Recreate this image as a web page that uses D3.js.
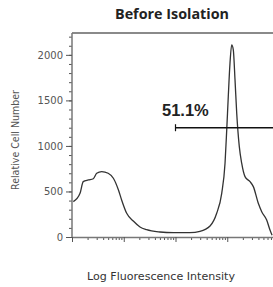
<!DOCTYPE html>
<html>
<head>
<meta charset="utf-8">
<script src="https://cdn.jsdelivr.net/npm/d3@7"></script>
<style>
  body { margin: 0; background: #fff; }
  svg { display: block; }
</style>
</head>
<body>
<div id="chart"></div>
<script>
// histogram: intensity (log axis) vs relative cell number
const intensity = [1.06, 1.43, 1.65, 2.07, 2.58, 3.0, 3.75, 5.0, 6.3, 7.9, 9.1, 11.4, 15.3, 20.6, 27.7,
    50, 91, 190, 297, 465, 625, 782, 906, 977, 1047, 1130, 1219, 1309, 1413, 1524, 1710, 1901,
    2203, 2754, 3192, 3981, 4634, 5781, 6699, 7328];
const cellCount = [388, 480, 608, 626, 640, 700, 718, 700, 645, 516, 407, 260, 175, 110, 80,
    55, 47, 48, 62, 120, 260, 480, 810, 1176, 1542, 1909, 2110, 2055, 1725, 1359, 992, 810,
    663, 608, 553, 370, 278, 187, 77, 20];

const yTicks = [0, 500, 1000, 1500, 2000];
const gateRange = [100, 10000];
const gateLevel = 1200;
const gateLabel = "51.1%";

const width = 273, height = 287;
const plotLeft = 72, plotTop = 33, plotBottom = 237, plotRight = 279;

let svg = d3.select("#chart").append("svg")
    .attr("width", width)
    .attr("height", height);

let x = d3.scaleLog().domain([1, 10000]).range([plotLeft, plotRight]);
let y = d3.scaleLinear().domain([0, 2240]).range([plotBottom, plotTop]);

// title
svg.append("text")
    .attr("x", 172)
    .attr("y", 19)
    .attr("text-anchor", "middle")
    .attr("textLength", 114)
    .attr("lengthAdjust", "spacingAndGlyphs")
    .style("font-family", "'Open Sans', sans-serif")
    .style("font-weight", "bold")
    .style("font-size", "13.5px")
    .style("fill", "#222")
    .text("Before Isolation");

// top frame
svg.append("line")
    .attr("x1", plotLeft).attr("x2", width)
    .attr("y1", plotTop).attr("y2", plotTop)
    .style("stroke", "#8a8a8a")
    .style("stroke-width", 2);

// y axis, minor ticks every 100
let yMinor = d3.range(0, 2201, 100);
svg.append("g")
    .attr("transform", "translate(" + plotLeft + ",0)")
    .call(d3.axisLeft(y).tickValues(yMinor).tickSize(3).tickFormat(""))
    .call(g => g.select(".domain").remove())
    .selectAll("line").style("stroke", "#555");

let yAxis = svg.append("g")
    .attr("transform", "translate(" + plotLeft + ",0)")
    .call(d3.axisLeft(y).tickValues(yTicks).tickSize(6).tickPadding(3)
        .tickSizeOuter(0).tickFormat(d3.format("d")));
yAxis.select(".domain").attr("d", "M0," + plotBottom + "V" + plotTop).style("stroke", "#777").style("stroke-width", 1.5);
yAxis.selectAll("line").style("stroke", "#555");
yAxis.selectAll("text")
    .style("font-family", "'DejaVu Sans', sans-serif")
    .style("font-size", "10px")
    .style("fill", "#555");

// x axis, log ticks
let xMinor = [];
for (let d = 1; d < 10000; d *= 10) {
    for (let k = 2; k <= 9; k++) xMinor.push(d * k);
}
svg.append("g")
    .attr("transform", "translate(0," + plotBottom + ")")
    .call(d3.axisBottom(x).tickValues(xMinor).tickSize(3).tickFormat(""))
    .call(g => g.select(".domain").remove())
    .selectAll("line").style("stroke", "#555");

let xAxis = svg.append("g")
    .attr("transform", "translate(0," + plotBottom + ")")
    .call(d3.axisBottom(x).tickValues([1, 10, 100, 1000, 10000]).tickSize(5).tickFormat("").tickSizeOuter(0));
xAxis.select(".domain").style("stroke", "#777").style("stroke-width", 1.5);
xAxis.selectAll("line").style("stroke", "#555");

// histogram curve
let line = d3.line()
    .x((d, i) => x(intensity[i]))
    .y(d => y(d))
    .curve(d3.curveMonotoneX);

svg.append("path")
    .datum(cellCount)
    .attr("d", line)
    .style("fill", "none")
    .style("stroke", "#333")
    .style("stroke-width", 1.3);

// gate marker
let gy = y(gateLevel);
svg.append("line")
    .attr("x1", x(gateRange[0])).attr("x2", x(gateRange[1]))
    .attr("y1", gy).attr("y2", gy)
    .style("stroke", "#111")
    .style("stroke-width", 1.6);
svg.append("line")
    .attr("x1", x(gateRange[0])).attr("x2", x(gateRange[0]))
    .attr("y1", gy - 3.5).attr("y2", gy + 3.5)
    .style("stroke", "#111")
    .style("stroke-width", 1.2);

svg.append("text")
    .attr("x", 162)
    .attr("y", 116)
    .style("font-family", "'Liberation Sans', Arial, sans-serif")
    .style("font-weight", "bold")
    .style("font-size", "16.5px")
    .style("fill", "#222")
    .text(gateLabel);

// axis titles
svg.append("text")
    .attr("x", 161)
    .attr("y", 280)
    .attr("text-anchor", "middle")
    .attr("textLength", 148)
    .attr("lengthAdjust", "spacingAndGlyphs")
    .style("font-family", "'DejaVu Sans', sans-serif")
    .style("font-size", "11px")
    .style("fill", "#333")
    .text("Log Fluorescence Intensity");

svg.append("text")
    .attr("transform", "translate(19,140) rotate(-90)")
    .attr("text-anchor", "middle")
    .attr("textLength", 100)
    .attr("lengthAdjust", "spacingAndGlyphs")
    .style("font-family", "'DejaVu Sans', sans-serif")
    .style("font-size", "10px")
    .style("fill", "#555")
    .text("Relative Cell Number");
</script>
</body>
</html>
